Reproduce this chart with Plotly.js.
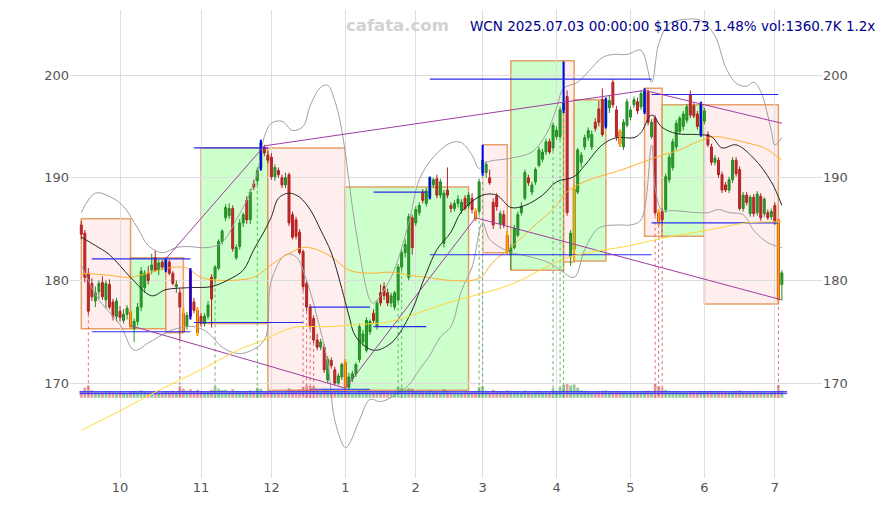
<!DOCTYPE html>
<html><head><meta charset="utf-8">
<script src="https://cdn.plot.ly/plotly-3.0.1.min.js"></script>
<style>body{margin:0;background:#fff}#chart{width:887px;height:505px}</style>
</head><body><div id="chart"></div>
<script>
// ---- month ticks (trading-day index) ----
const tickIdx = [11,34,54,75,95,114,135,156,177,197];
const tickText = ['10','11','12','1','2','3','4','5','6','7'];

// ---- daily OHLC (Sep 16 2024 .. Jul 3 2025, trading days) ----
const openP = [185.4,184.6,180.7,179.7,178.0,178.9,179.8,178.1,179.6,177.9,
176.5,177.0,176.1,176.7,176.9,175.3,176.0,177.4,179.3,180.7,
181.0,182.2,181.0,181.8,181.0,181.8,180.7,179.4,178.8,176.8,
175.5,181.0,177.9,177.1,176.5,175.8,176.5,180.3,180.2,181.2,
183.8,186.1,186.3,187.0,182.2,183.3,185.6,187.8,185.9,189.4,
189.7,190.9,192.9,192.2,192.0,190.1,190.7,190.0,189.3,190.3,
186.4,185.9,184.7,182.8,179.7,177.4,176.3,174.2,173.5,173.5,
170.3,172.2,171.3,170.0,170.6,172.0,169.6,170.4,170.9,172.3,
174.0,173.2,175.0,176.8,175.5,178.8,179.4,178.8,177.8,177.4,
178.1,181.3,182.7,180.3,186.1,185.6,186.6,188.6,187.5,188.1,
189.3,189.9,188.3,183.6,188.8,187.3,187.0,187.5,186.8,188.0,
187.3,188.0,186.7,186.7,190.5,190.5,190.0,187.6,188.2,185.5,
186.4,184.4,182.5,183.2,184.4,186.6,188.0,190.0,188.6,189.6,
191.2,191.8,192.5,193.5,192.9,194.0,194.0,196.6,197.9,182.3,
183.0,188.6,191.5,193.0,193.9,193.0,195.4,196.7,197.6,195.0,
196.8,199.3,196.6,194.5,193.0,195.1,195.9,197.1,197.4,196.9,
196.4,198.3,194.0,195.8,186.6,186.7,186.9,189.8,191.0,193.0,
194.5,195.0,195.6,198.1,197.0,196.2,194.2,195.5,194.2,193.0,
191.5,191.7,190.3,189.3,188.8,189.8,191.7,190.8,187.0,188.3,
186.5,188.1,186.6,188.2,186.5,186.6,186.2,187.3,185.9,179.6];
const highP = [185.8,184.9,181.2,180.2,179.4,180.0,180.4,180.0,180.1,178.2,
178.3,177.5,177.2,177.6,177.1,176.3,177.8,181.3,181.0,181.4,
182.6,182.9,182.0,182.0,182.2,182.0,180.9,180.0,179.2,177.3,
176.9,181.2,178.3,177.4,176.8,176.8,178.0,180.6,181.5,184.0,
185.0,187.4,187.5,187.3,183.5,186.0,186.6,188.2,188.9,189.8,
191.0,193.7,193.2,192.6,192.4,191.3,191.0,190.3,190.5,190.5,
186.7,186.2,185.0,183.0,180.0,177.7,176.6,174.8,174.3,173.8,
172.6,172.5,171.6,171.0,172.0,172.3,171.0,171.2,172.0,175.8,
175.2,176.4,176.2,177.2,178.1,179.6,179.8,179.2,178.8,179.0,
181.6,183.0,184.0,186.5,186.4,187.2,187.6,188.9,189.0,190.1,
190.0,190.3,189.9,188.8,191.0,187.6,187.8,188.3,187.9,188.3,
188.6,188.5,187.0,189.9,193.2,191.6,190.8,188.0,188.5,186.8,
186.8,184.8,183.5,185.4,186.7,187.6,190.8,190.3,189.6,191.0,
193.0,192.8,193.8,193.8,195.4,195.0,196.9,201.3,198.5,184.9,
189.3,192.9,192.5,194.2,194.9,194.6,195.8,197.5,198.7,197.8,
198.0,199.6,197.0,194.7,195.7,197.7,196.9,197.9,197.8,198.5,
198.7,198.6,195.7,196.1,186.9,187.0,190.4,192.3,193.8,195.6,
196.0,196.5,197.2,198.5,197.3,196.5,197.4,196.8,194.5,193.3,
192.2,192.0,190.6,189.6,190.1,192.0,192.0,191.1,188.6,188.6,
188.3,188.4,188.7,188.5,188.1,186.9,187.0,187.6,186.0,181.0];
const lowP = [184.0,179.8,176.7,178.0,177.4,178.2,178.1,177.3,177.2,176.1,
176.0,176.0,175.8,176.2,175.3,174.0,175.6,177.0,178.8,179.6,
180.6,180.8,180.5,181.0,180.8,180.5,179.5,178.8,174.2,174.9,
175.2,176.2,176.8,174.6,175.5,175.5,176.2,175.4,179.8,181.0,
183.5,185.8,186.0,182.8,182.0,183.0,185.2,185.5,185.5,188.8,
189.3,190.7,192.1,191.4,189.8,189.7,190.0,189.0,189.0,185.3,
184.0,184.0,182.5,179.0,177.0,175.2,173.9,173.2,173.2,171.0,
170.0,171.4,169.8,169.8,170.3,169.4,169.4,170.1,170.6,172.0,
173.6,173.0,174.7,175.8,175.2,177.5,178.1,177.5,177.4,177.1,
177.9,181.0,182.2,180.0,182.5,185.3,186.3,187.5,187.2,187.9,
189.0,188.0,188.0,183.2,188.0,186.6,186.7,187.1,186.5,186.8,
187.0,186.5,185.8,186.4,190.2,190.0,189.3,185.0,186.8,185.0,
185.1,182.6,181.0,183.0,184.2,186.3,187.8,189.2,188.3,189.3,
191.0,191.5,192.2,192.3,192.6,193.7,193.7,196.3,186.3,181.4,
181.9,188.4,191.0,192.7,193.6,192.7,194.5,195.0,194.0,194.8,
196.3,196.8,193.6,193.0,192.7,194.9,195.6,196.8,196.2,196.6,
196.2,195.1,193.8,186.3,185.4,185.6,186.6,189.5,190.7,192.7,
194.2,194.6,195.3,195.8,195.8,194.7,194.0,195.2,193.0,191.2,
191.2,190.0,188.5,188.6,188.5,189.5,190.1,186.8,186.7,187.3,
186.2,186.2,186.3,185.8,186.2,185.9,185.9,185.4,178.0,178.1];
const closeP = [184.5,180.3,177.0,178.4,178.8,179.7,178.4,179.7,177.4,176.5,
178.0,176.4,176.7,177.3,175.5,176.0,177.4,180.9,180.7,180.0,
181.5,181.0,181.7,181.3,182.0,180.7,179.7,179.6,177.4,175.0,
176.6,176.5,177.1,174.9,175.8,176.5,177.6,178.2,181.3,183.8,
184.8,187.1,187.0,183.1,183.2,185.6,186.4,185.9,188.6,189.1,
190.7,193.4,192.4,191.7,190.1,191.0,190.3,189.3,190.0,185.6,
184.2,184.3,182.7,179.4,177.4,175.5,174.2,173.5,174.0,171.3,
172.3,171.7,170.0,170.7,171.8,169.6,170.6,170.9,171.8,175.5,
174.8,176.1,176.0,176.1,177.8,177.8,178.5,177.8,178.5,178.8,
181.3,182.7,183.5,186.2,183.2,186.9,187.3,187.8,188.7,190.0,
189.8,188.3,189.6,188.5,188.3,187.0,187.5,187.9,187.6,187.0,
188.3,186.9,186.0,189.6,191.7,191.3,189.5,185.4,187.2,186.5,
185.4,182.8,183.2,185.1,186.4,187.2,190.5,189.5,189.3,190.8,
192.7,192.5,193.5,192.5,195.1,194.6,196.6,197.3,186.6,184.6,
188.9,192.7,192.2,193.9,194.6,194.2,194.8,195.4,194.2,197.6,
197.5,197.1,194.0,193.3,195.4,197.4,196.6,197.6,196.5,198.2,
198.5,195.4,195.4,186.6,185.7,185.9,190.1,192.0,193.5,195.3,
195.8,196.2,196.9,196.1,196.0,195.0,197.2,196.5,193.2,191.5,
191.9,190.3,188.8,188.8,189.8,191.7,190.4,187.0,188.3,187.6,
188.1,186.5,188.4,186.1,187.9,186.1,186.7,185.6,178.1,180.73];
const volumeK = [1250,1900,2300,1400,1100,1000,1050,1200,1300,1150,
1000,1100,950,900,1250,1300,1100,1400,1150,1000,
1050,1100,950,1000,1200,1150,1300,1050,2200,1700,
1350,1600,1200,1500,1250,1100,1150,1500,2100,1700,
1450,1500,1200,1600,1300,1200,1150,1250,1400,1300,
1900,1700,1200,1100,1250,1050,1000,1100,1150,1800,
1500,1400,1600,2000,2300,2200,2100,1600,1200,1500,
1400,1100,1300,1250,1200,1500,1100,1000,1050,1600,
1300,1400,1200,1150,1300,1250,1200,1100,1050,1150,
2000,1900,1500,1800,1700,1350,1200,1250,1150,1400,
1200,1100,1050,1600,1300,1150,1000,950,1000,1100,
1050,1200,1300,2000,2100,1300,1200,1500,1250,1150,
1200,1400,1300,1250,1200,1100,1350,1200,1050,1150,
1300,1100,1200,1150,1800,1300,1900,2400,2600,2300,
2500,1900,1400,1300,1200,1100,1150,1250,1300,1400,
1200,1250,1300,1200,1100,1150,1050,1100,1000,1200,
1300,1350,1200,2600,2200,1900,1500,1300,1250,1200,
1150,1100,1050,1250,1200,1150,1300,1200,1250,1300,
1200,1250,1300,1150,1100,1200,1300,1400,1200,1150,
1100,1250,1100,1200,1050,1000,1100,1150,2400,1360.7];
const volAvgLevels = [1134, 800];

// ---- pivot markers & flagged days ----
const pivotHighIdx = [24,31,51,99,114,137,149,160,176];
const pivotLowIdx = [14,29,33,75,112,121,140,153,164,198];
const redFlagIdx = [2,28,63,64,65,66,163,164,165,198];
const greenFlagIdx = [38,50,90,91,113,114,134,136,137];

// ---- indicator lines (index, value) ----
const maFastX = [0,4,8,14,20,24,31,37,42,46,49,52,54,56,59,62,65,68,71,74,76,78,83,88,93,98,101,105,108,114,118,122,126,131,135,140,143,148,152,157,159,162,165,169,175,179,182,186,191,196,199];
const maFastY = [184.2,183.4,182.5,180.3,178.5,179.1,179.3,179.4,180.1,181.0,183.0,184.8,186.2,188.0,188.5,188.1,186.9,184.9,182.7,179.2,176.6,174.5,173.2,173.9,176.4,180.7,183.0,184.7,186.7,188.3,188.3,187.1,187.3,188.3,189.6,190.1,191.2,193.2,193.9,193.9,194.4,196.1,194.9,194.3,194.2,194.0,192.9,193.2,191.9,189.6,187.3];
const maMidX = [0,8,14,22,27,30,34,40,49,52,56,60,63,66,71,76,82,88,93,98,105,113,117,122,128,135,137,141,146,152,157,161,165,170,175,180,184,189,194,199];
const maMidY = [180.7,180.5,180.3,181.0,181.3,181.2,180.3,180.0,180.3,181.0,182.0,182.8,183.2,183.1,182.3,181.0,180.7,180.8,180.5,180.3,180.0,180.2,181.8,183.2,185.1,187.3,188.3,189.3,190.0,190.6,191.2,191.7,192.2,192.7,193.5,194.0,193.8,193.4,192.9,191.7];
const maSlowX = [0,11,22,34,45,52,60,70,79,88,98,105,122,138,156,165,178,189,199];
const maSlowY = [165.4,167.3,169.3,171.3,173.3,174.2,175.4,175.5,175.7,176.0,177.1,177.9,179.6,182.2,183.4,184.1,184.9,185.6,185.7];
const bandUpX = [0,4,9,12,16,19,23,27,30,36,40,44,47,50,52,54,57,60,63,65,68,70,72,74,78,82,83,88,93,96,100,105,108,111,113,115,122,128,132,135,137,141,145,148,151,155,159,162,164,167,171,176,180,183,186,189,191,193,196,197,199];
const bandUpY = [186.6,188.5,188.0,187.2,185.1,183.4,182.7,183.2,183.3,183.2,183.7,185.9,187.8,190.5,194.0,195.3,195.5,194.6,195.0,197.0,198.8,199.0,197.5,194.6,184.9,178.1,177.8,180.3,185.6,189.8,192.0,193.4,193.4,192.2,190.9,191.5,191.9,192.5,194.2,196.8,198.7,199.3,200.7,201.7,202.0,202.0,202.4,199.3,203.0,205.0,205.4,205.3,203.8,200.8,199.2,198.9,199.3,198.4,194.6,193.2,193.9];
const bandLoX = [0,2,5,11,15,19,24,27,32,36,40,44,47,52,54,58,61,64,67,70,72,75,76,79,82,85,88,90,93,96,99,102,105,108,111,114,116,122,125,133,136,140,143,147,153,156,159,162,163,165,168,175,178,181,184,188,191,194,196,199];
const bandLoY = [181.5,180.0,178.1,175.7,173.2,173.9,174.9,175.3,175.5,174.9,173.5,172.9,173.0,174.2,180.0,182.5,182.3,180.0,176.4,172.0,166.4,163.7,164.0,166.4,168.4,168.2,168.6,169.1,169.8,171.3,172.7,174.5,175.5,179.0,181.3,185.6,184.0,182.7,182.5,181.7,181.0,180.3,183.0,185.1,185.4,185.4,185.9,193.2,189.0,186.8,186.8,186.6,186.6,186.9,186.6,186.4,184.9,183.9,183.5,183.2];

// ---- trend lines ----
const trendAX = [14,75], trendAY = [175.6,169.5];
const trendBX = [75,112,199], trendBY = [169.5,186.1,178.1];
const trendCX = [24,52,160,199], trendCY = [182.1,193.1,198.5,195.3];

// ---- range boxes ----
const boxStart = [0,14,24,34,53,75,114,122,137,140,160,165,177];
const boxEnd   = [14,24,29,53,75,110,121,137,140,149,165,177,198];
const boxTop   = [186.0,182.2,182.2,192.9,192.9,189.1,193.2,201.4,201.4,197.6,198.7,197.1,197.1];
const boxBot   = [175.3,175.3,174.9,175.8,169.3,169.3,182.7,181.0,181.8,181.9,184.3,184.3,177.7];
const boxUp    = [0,1,0,1,0,1,0,1,0,1,0,1,0];

// ---- support / resistance levels ----
const levelStart = [3,3,32,32,65,65,83,83,99,99,162,162];
const levelEnd   = [31,31,63,53,82,82,98,98,162,162,198,198];
const levelPrice = [182.1,175.0,175.9,192.9,177.4,169.4,188.6,175.5,182.5,199.6,198.1,185.6];

const dayIdx = openP.map((_, i) => i);
const FLOOR = 168.55;
const font = 'DejaVu Sans';

const traces = [];
// volume
traces.push({type:'bar', x:dayIdx, y:volumeK, yaxis:'y2', width:0.8,
  marker:{color:dayIdx.map(i => closeP[i] >= openP[i] ? 'rgba(80,165,80,0.6)' : 'rgba(210,95,95,0.6)'), line:{width:0}},
  hoverinfo:'skip'});
volAvgLevels.forEach(v => traces.push({type:'scatter', mode:'lines', x:[-0.5,200.5], y:[v,v], yaxis:'y2',
  line:{color:'rgba(40,40,255,0.8)', width:1.5}, hoverinfo:'skip'}));

// flagged day verticals
function flagTrace(idxs, color){
  const x=[], y=[];
  idxs.forEach(i => { x.push(i,i,null); y.push(lowP[i], FLOOR, null); });
  return {type:'scatter', mode:'lines', x, y, line:{color, width:1, dash:'dot'}, hoverinfo:'skip'};
}
traces.push(flagTrace(redFlagIdx,'rgba(215,90,90,0.85)'));
traces.push(flagTrace(greenFlagIdx,'rgba(80,170,80,0.85)'));

// bands and averages
traces.push({type:'scatter', mode:'lines', x:bandUpX, y:bandUpY, line:{color:'#a0a0a0', width:1, shape:'spline'}, hoverinfo:'skip'});
traces.push({type:'scatter', mode:'lines', x:bandLoX, y:bandLoY, line:{color:'#a0a0a0', width:1, shape:'spline'}, hoverinfo:'skip'});
traces.push({type:'scatter', mode:'lines', x:maSlowX, y:maSlowY, yaxis:'y3', line:{color:'#ffd83a', width:1, shape:'spline'}, hoverinfo:'skip'});
traces.push({type:'scatter', mode:'lines', x:maMidX, y:maMidY, line:{color:'#ffb030', width:1, shape:'spline'}, hoverinfo:'skip'});
traces.push({type:'scatter', mode:'lines', x:maFastX, y:maFastY, line:{color:'#262626', width:1, shape:'spline'}, hoverinfo:'skip'});

// candles
traces.push({type:'candlestick', x:dayIdx, open:openP, high:highP, low:lowP, close:closeP,
  increasing:{line:{color:'#228b22', width:1}, fillcolor:'#2e9b2e'},
  decreasing:{line:{color:'#b22222', width:1}, fillcolor:'#c12a2a'},
  whiskerwidth:0, hoverinfo:'skip'});

// pivot markers
function pivotTrace(idxs, color){
  const x=[], y=[];
  idxs.forEach(i => { x.push(i,i,null); y.push(lowP[i], highP[i], null); });
  return {type:'scatter', mode:'lines', x, y, line:{color, width:2}, hoverinfo:'skip'};
}
traces.push(pivotTrace(pivotHighIdx,'#0000ff'));
traces.push(pivotTrace(pivotLowIdx,'#ffa500'));

// levels
{
  const x=[], y=[];
  levelPrice.forEach((p,k) => { x.push(levelStart[k], levelEnd[k], null); y.push(p,p,null); });
  traces.push({type:'scatter', mode:'lines', x, y, line:{color:'#2a2aee', width:1.2}, hoverinfo:'skip'});
}
// trend lines
[[trendAX,trendAY],[trendBX,trendBY],[trendCX,trendCY]].forEach(([x,y]) =>
  traces.push({type:'scatter', mode:'lines', x, y, line:{color:'#a23ca2', width:1}, hoverinfo:'skip'}));

const shapes = boxStart.map((s,k) => ({type:'rect', xref:'x', yref:'y', layer:'below',
  x0:s, x1:boxEnd[k], y0:boxBot[k], y1:boxTop[k],
  fillcolor: boxUp[k] ? '#ccffcc' : '#ffeeee',
  line:{color:'rgba(222,140,70,0.8)', width:1.5}}));

const yRange = [160.76, 206.33];
const layout = {
  width:887, height:505, margin:{l:70, r:65, t:10, b:27},
  paper_bgcolor:'#ffffff', plot_bgcolor:'#ffffff', showlegend:false, hovermode:false,
  boxgap:0.2,
  font:{family:font, size:13, color:'#555'},
  xaxis:{range:[-3.21,210.4], tickvals:tickIdx, ticktext:tickText, showgrid:true, gridcolor:'#dddddd',
    zeroline:false, showline:false, ticks:'', rangeslider:{visible:false}, tickfont:{family:font,size:13,color:'#555'}},
  yaxis:{range:yRange, tickvals:[170,180,190,200], showgrid:true, gridcolor:'#dddddd', zeroline:false, ticks:'',
    tickfont:{family:font,size:13,color:'#555'}},
  yaxis3:{range:yRange, overlaying:'y', side:'right', tickvals:[170,180,190,200], showgrid:false, zeroline:false, ticks:'',
    tickfont:{family:font,size:13,color:'#555'}},
  yaxis2:{range:[-15000,72500], overlaying:'y', visible:false, showgrid:false, zeroline:false},
  shapes,
  annotations:[
    {text:'cafata.com', xref:'paper', yref:'paper', x:0.435, y:0.966, xanchor:'center', yanchor:'middle', showarrow:false,
     font:{family:font, size:16.5, color:'#d2d2d2', weight:'bold'}},
    {text:'WCN 2025.07.03 00:00:00 $180.73 1.48% vol:1360.7K 1.2x', xref:'paper', yref:'paper', x:1.073, y:0.966,
     xanchor:'right', yanchor:'middle', showarrow:false, font:{family:font, size:13.5, color:'#00008b'}}
  ]
};
Plotly.newPlot('chart', traces, layout, {staticPlot:true, displayModeBar:false});
</script></body></html>
